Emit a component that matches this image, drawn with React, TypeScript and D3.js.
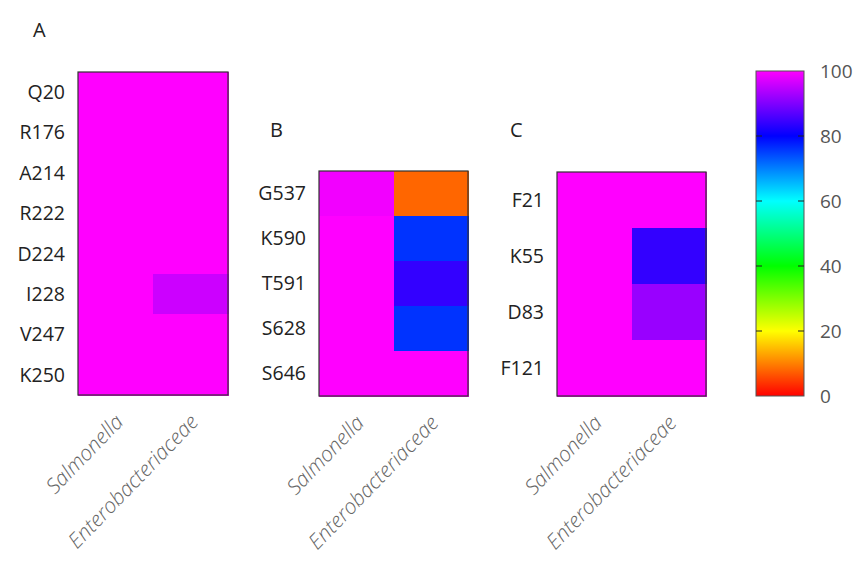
import { useEffect, useRef } from "react"
import * as d3 from "d3"

const columns = ["Salmonella", "Enterobacteriaceae"]

const residuesA = ["Q20", "R176", "A214", "R222", "D224", "I228", "V247", "K250"]
const salmonellaA = [100, 100, 100, 100, 100, 100, 100, 100]
const enteroA = [100, 100, 100, 100, 100, 96, 100, 100]

const residuesB = ["G537", "K590", "T591", "S628", "S646"]
const salmonellaB = [99, 100, 100, 100, 100]
const enteroB = [8, 76, 84, 76, 100]

const residuesC = ["F21", "K55", "D83", "F121"]
const salmonellaC = [100, 100, 100, 100]
const enteroC = [100, 84, 92, 100]

const colorbarTicks = [0, 20, 40, 60, 80, 100]

// hue 0 (red) -> 300 (magenta)
const valueColor = (v: number) => d3.hsl(v * 3, 1, 0.5).formatHex()

export default function App() {
  const svgRef = useRef<SVGSVGElement>(null)

  useEffect(() => {
    if (!svgRef.current) return
    const width = 857
    const height = 561
    d3.select(svgRef.current).selectAll("*").remove()
    const svg = d3.select(svgRef.current).attr("width", width).attr("height", height)

    const font = "'Open Sans', 'Noto Sans', sans-serif"

    const panels = [
      { letter: "A", lx: 33, ly: 37, x0: 78, x1: 228, y0: 72, y1: 395, rows: residuesA, sal: salmonellaA, ent: enteroA },
      { letter: "B", lx: 270, ly: 137, x0: 319, x1: 468, y0: 171, y1: 396, rows: residuesB, sal: salmonellaB, ent: enteroB },
      { letter: "C", lx: 510, ly: 137, x0: 557, x1: 706, y0: 172, y1: 396, rows: residuesC, sal: salmonellaC, ent: enteroC },
    ]

    panels.forEach((p) => {
      const x = d3.scaleBand().domain(columns).range([p.x0, p.x1])
      const y = d3.scaleBand().domain(p.rows).range([p.y0, p.y1])
      const g = svg.append("g")

      const cells: { row: string; col: string; v: number }[] = []
      p.rows.forEach((r, i) => {
        cells.push({ row: r, col: columns[0], v: p.sal[i] })
        cells.push({ row: r, col: columns[1], v: p.ent[i] })
      })

      g.selectAll("rect.cell")
        .data(cells)
        .enter()
        .append("rect")
        .attr("class", "cell")
        .attr("x", (d) => x(d.col)!)
        .attr("y", (d) => y(d.row)!)
        .attr("width", x.bandwidth() + 0.5)
        .attr("height", y.bandwidth() + 0.5)
        .attr("fill", (d) => valueColor(d.v))
        .attr("shape-rendering", "crispEdges")

      g.append("rect")
        .attr("x", p.x0)
        .attr("y", p.y0)
        .attr("width", p.x1 - p.x0)
        .attr("height", p.y1 - p.y0)
        .attr("fill", "none")
        .attr("stroke", "#333")
        .attr("stroke-width", 1.2)

      // row labels
      g.selectAll("text.row")
        .data(p.rows)
        .enter()
        .append("text")
        .attr("class", "row")
        .attr("x", p.x0 - 13)
        .attr("y", (d) => y(d)! + y.bandwidth() / 2)
        .attr("dy", "0.35em")
        .attr("text-anchor", "end")
        .attr("font-family", font)
        .attr("font-size", 19.5)
        .attr("fill", "#222")
        .text((d) => d)

      // column labels
      g.selectAll("text.col")
        .data(columns)
        .enter()
        .append("text")
        .attr("class", "col")
        .attr("transform", (d) => `translate(${x(d)! + x.bandwidth() / 2 + 9},${p.y1 + 28}) rotate(-46)`)
        .attr("text-anchor", "end")
        .attr("font-family", font)
        .attr("font-style", "italic")
        .attr("font-weight", 300)
        .attr("font-size", 21)
        .attr("fill", "#666")
        .text((d) => d)

      svg.append("text")
        .attr("x", p.lx)
        .attr("y", p.ly)
        .attr("font-family", font)
        .attr("font-size", 20)
        .attr("fill", "#222")
        .text(p.letter)
    })

    // colorbar
    const cb = { x0: 756, x1: 804, y0: 71, y1: 396 }
    const cy = d3.scaleLinear().domain([0, 100]).range([cb.y1, cb.y0])
    const defs = svg.append("defs")
    const grad = defs
      .append("linearGradient")
      .attr("id", "cbgrad")
      .attr("x1", 0)
      .attr("y1", 1)
      .attr("x2", 0)
      .attr("y2", 0)
    d3.range(0, 101, 5).forEach((v) => {
      grad.append("stop").attr("offset", `${v}%`).attr("stop-color", valueColor(v))
    })
    svg.append("rect")
      .attr("x", cb.x0)
      .attr("y", cb.y0)
      .attr("width", cb.x1 - cb.x0)
      .attr("height", cb.y1 - cb.y0)
      .attr("fill", "url(#cbgrad)")
      .attr("stroke", "#555")
      .attr("stroke-width", 1)

    const inner = colorbarTicks.filter((t) => t > 0 && t < 100)
    svg.selectAll("line.cbtickL")
      .data(inner)
      .enter()
      .append("line")
      .attr("x1", cb.x0)
      .attr("x2", cb.x0 + 6)
      .attr("y1", (d) => cy(d))
      .attr("y2", (d) => cy(d))
      .attr("stroke", "#222")
    svg.selectAll("line.cbtickR")
      .data(inner)
      .enter()
      .append("line")
      .attr("x1", cb.x1 - 6)
      .attr("x2", cb.x1)
      .attr("y1", (d) => cy(d))
      .attr("y2", (d) => cy(d))
      .attr("stroke", "#222")

    svg.selectAll("text.cblabel")
      .data(colorbarTicks)
      .enter()
      .append("text")
      .attr("x", 820)
      .attr("y", (d) => cy(d))
      .attr("dy", "0.35em")
      .attr("font-family", font)
      .attr("font-size", 19)
      .attr("fill", "#555")
      .text((d) => d)
  }, [])

  return <svg ref={svgRef} style={{ position: "absolute", left: 0, top: 0, background: "#fff" }} />
}
